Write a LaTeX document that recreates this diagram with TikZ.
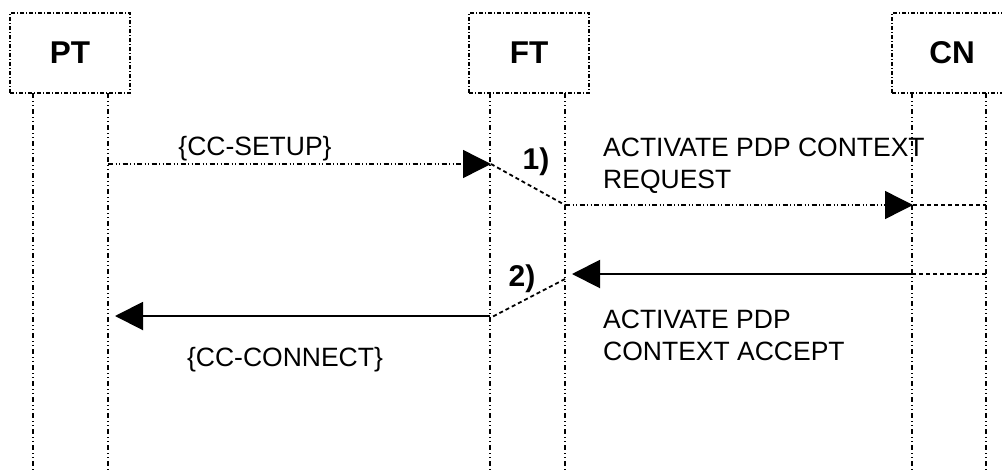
\documentclass[tikz,border=0pt]{standalone}
\usepackage{fontspec}
\setmainfont{Liberation Sans}
\usetikzlibrary{arrows.meta}

\begin{document}
\begin{tikzpicture}[x=1pt,y=-1pt,
  headbox/.style={draw, line width=1.5pt,
    dash pattern=on 4pt off 2pt on 1pt off 2pt,
    minimum width=120pt, minimum height=80pt, inner sep=0pt,
    font=\fontsize{31.5}{31.5}\selectfont\bfseries},
  lifeline/.style={line width=1.2pt,
    dash pattern=on 5pt off 3pt on 1pt off 3pt on 1pt off 3pt},
  msgdd/.style={line width=1.4pt,
    dash pattern=on 5pt off 2.5pt on 1pt off 2.5pt on 1pt off 2.5pt},
  hop/.style={line width=1.8pt, dash pattern=on 4pt off 3pt},
  msgsolid/.style={line width=2pt},
  headtip/.style={-{Triangle[length=28pt,width=28pt]}},
  msgtext/.style={inner sep=0pt, font=\fontsize{26.5}{31.5}\selectfont},
  steptext/.style={inner sep=0pt, font=\fontsize{30}{30}\selectfont\bfseries}]

\useasboundingbox (0,0) rectangle (1002,472);
\clip (0,0) rectangle (1002,472);

% entity heads
\node[headbox] (pt) at (70,53)  {PT};
\node[headbox] (ft) at (529,53) {FT};
\node[headbox] (cn) at (952,53) {CN};

% lifeline tops
\coordinate (ptA) at (33,93);   \coordinate (ptB) at (108,93);
\coordinate (ftA) at (490,93);  \coordinate (ftB) at (565,93);
\coordinate (cnA) at (912,93);  \coordinate (cnB) at (986,93);

\foreach \c in {ptA,ptB,ftA,ftB,cnA,cnB}
  \draw[lifeline] (\c) -- (\c |- 0,472);

% message points
\coordinate (s1) at (108,164);  \coordinate (r1) at (491,164);
\coordinate (s2) at (565,205);  \coordinate (r2) at (913,205);
\coordinate (e2) at (986,205);
\coordinate (s3) at (986,274);  \coordinate (m3) at (912,274);
\coordinate (r3) at (572,274);
\coordinate (k3) at (565,279);  \coordinate (s4) at (490,316);
\coordinate (k4) at (490,318);  \coordinate (r4) at (115,316);

% request path
\draw[msgdd, headtip] (s1) -- (r1);
\draw[hop] (r1) -- (s2);
\draw[msgdd, headtip] (s2) -- (r2);
\draw[hop] (r2) -- (e2);

% accept path
\draw[hop] (s3) -- (m3);
\draw[msgsolid, headtip] (m3) -- (r3);
\draw[hop] (k3) -- (k4);
\draw[msgsolid, headtip] (s4) -- (r4);

% labels
\node[msgtext, anchor=base] (lsetup) at (255,155) {\{CC-SETUP\}};
\node[steptext, anchor=base] (l1) at (536,169) {1)};
\node[msgtext, anchor=north west, align=left] (lreq) at (603,138)
  {ACTIVATE PDP CONTEXT\\REQUEST};
\node[steptext, anchor=base] (l2) at (522,286) {2)};
\node[msgtext, anchor=north west, align=left] (lacc) at (603,310)
  {ACTIVATE PDP\\CONTEXT ACCEPT};
\node[msgtext, anchor=base] (lconn) at (285,366) {\{CC-CONNECT\}};
\end{tikzpicture}
\end{document}
